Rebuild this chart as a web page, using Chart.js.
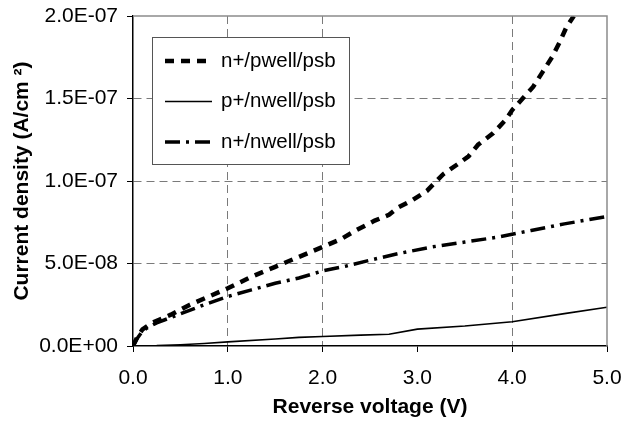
<!DOCTYPE html>
<html>
<head>
<meta charset="utf-8">
<script src="https://cdn.jsdelivr.net/npm/chart.js@4.4.1/dist/chart.umd.min.js"></script>
<style>
html, body { margin: 0; padding: 0; background: #fff; }
canvas { display: block; }
</style>
</head>
<body>
<canvas id="ivChart" width="621" height="422"></canvas>
<script>
// reverse voltage (V) and current density (A/cm2)
var voltsNPwell = [0, 0.05, 0.1, 0.2, 0.4, 0.6, 0.8, 1.0, 1.25, 1.5, 1.75, 2.0, 2.2, 2.35, 2.55, 2.7, 2.8, 2.95, 3.1, 3.27, 3.42, 3.54, 3.64, 3.8, 3.93, 4.0, 4.11, 4.22, 4.32, 4.42, 4.5, 4.57, 4.65];
var currNPwell = [0, 0.6e-8, 1.0e-8, 1.4e-8, 1.9e-8, 2.5e-8, 3.0e-8, 3.5e-8, 4.2e-8, 4.8e-8, 5.4e-8, 6.0e-8, 6.5e-8, 7.0e-8, 7.6e-8, 7.95e-8, 8.4e-8, 8.85e-8, 9.4e-8, 10.4e-8, 11.0e-8, 11.5e-8, 12.2e-8, 12.9e-8, 13.7e-8, 14.3e-8, 15.0e-8, 15.7e-8, 16.6e-8, 17.5e-8, 18.4e-8, 19.3e-8, 20.0e-8];

var voltsPNwell = [0, 0.25, 0.5, 0.75, 1.0, 1.5, 1.75, 2.0, 2.4, 2.7, 3.0, 3.5, 4.0, 4.55, 5.0];
var currPNwell = [0, 0.02e-8, 0.08e-8, 0.15e-8, 0.25e-8, 0.42e-8, 0.52e-8, 0.58e-8, 0.66e-8, 0.71e-8, 1.02e-8, 1.21e-8, 1.47e-8, 1.96e-8, 2.35e-8];

var voltsNNwell = [0, 0.05, 0.1, 0.15, 0.25, 0.5, 0.75, 1.0, 1.25, 1.5, 1.75, 2.0, 2.25, 2.5, 2.8, 3.15, 3.5, 3.85, 4.2, 4.55, 5.0];
var currNNwell = [0, 0.5e-8, 0.9e-8, 1.1e-8, 1.4e-8, 1.95e-8, 2.5e-8, 3.0e-8, 3.4e-8, 3.8e-8, 4.12e-8, 4.55e-8, 4.85e-8, 5.2e-8, 5.6e-8, 6.0e-8, 6.3e-8, 6.6e-8, 7.0e-8, 7.4e-8, 7.85e-8];

var xTicks = [0, 1, 2, 3, 4, 5];
var xGridAt = [1, 2, 4];
var yTicks = [0, 5e-8, 1e-7, 1.5e-7, 2e-7];

function toPoints(xs, ys) {
    return xs.map(function(x, i) { return { x: x, y: ys[i] }; });
}

function sciLabel(v) {
    if (v === 0) return '0.0E+00';
    var parts = v.toExponential(1).split('e');
    var exp = parseInt(parts[1], 10);
    return parts[0] + 'E' + (exp < 0 ? '-' : '+') + String(Math.abs(exp)).padStart(2, '0');
}

var FONT = "'Liberation Sans', Arial, sans-serif";
Chart.defaults.font.family = FONT;
Chart.defaults.font.size = 21;
Chart.defaults.color = '#000';

// top/right frame and the boxed legend inside the plot
var frameAndLegend = {
    id: 'frameAndLegend',
    afterDraw: function(chart) {
        var ctx = chart.ctx, a = chart.chartArea;
        ctx.save();
        ctx.strokeStyle = '#8c8c8c';
        ctx.lineWidth = 1.5;
        ctx.beginPath();
        ctx.moveTo(a.left, a.top);
        ctx.lineTo(a.right, a.top);
        ctx.lineTo(a.right, a.bottom);
        ctx.stroke();

        ctx.fillStyle = '#fff';
        ctx.fillRect(152, 37, 197, 127);
        ctx.strokeStyle = '#555';
        ctx.lineWidth = 1;
        ctx.strokeRect(152.5, 37.5, 197, 127);

        chart.data.datasets.forEach(function(ds, i) {
            var y = 61 + i * 40.5;
            ctx.setLineDash(ds.borderDash || []);
            ctx.strokeStyle = ds.borderColor;
            ctx.lineWidth = ds.borderWidth;
            ctx.beginPath();
            ctx.moveTo(165, y);
            ctx.lineTo(212, y);
            ctx.stroke();
            ctx.setLineDash([]);
            ctx.fillStyle = '#000';
            ctx.font = '20.5px ' + FONT;
            ctx.textBaseline = 'middle';
            ctx.textAlign = 'left';
            ctx.fillText(ds.label, 221, y);
        });
        ctx.restore();
    }
};

var ctx = document.getElementById('ivChart').getContext('2d');
var ivChart = new Chart(ctx, {
    type: 'line',
    data: {
        datasets: [
            {
                label: 'n+/pwell/psb',
                data: toPoints(voltsNPwell, currNPwell),
                borderColor: '#000',
                borderWidth: 4.5,
                borderDash: [9, 7],
                pointRadius: 0
            },
            {
                label: 'p+/nwell/psb',
                data: toPoints(voltsPNwell, currPNwell),
                borderColor: '#000',
                borderWidth: 1.6,
                pointRadius: 0
            },
            {
                label: 'n+/nwell/psb',
                data: toPoints(voltsNNwell, currNNwell),
                borderColor: '#000',
                borderWidth: 3.5,
                borderDash: [15, 6, 3, 6],
                pointRadius: 0
            }
        ]
    },
    options: {
        responsive: false,
        animation: false,
        devicePixelRatio: 1,
        layout: { padding: { top: 16, right: 14, left: 0, bottom: 0 } },
        plugins: {
            legend: { display: false },
            tooltip: { enabled: false }
        },
        scales: {
            x: {
                type: 'linear',
                min: 0,
                max: 5,
                afterBuildTicks: function(scale) {
                    scale.ticks = xTicks.map(function(v) { return { value: v }; });
                },
                afterFit: function(scale) {
                    scale.height = 76;
                    scale.paddingLeft = 0;
                    scale.paddingRight = 0;
                },
                ticks: {
                    padding: 14,
                    maxRotation: 0,
                    callback: function(v) { return Number(v).toFixed(1); }
                },
                grid: {
                    color: function(c) {
                        return c.tick && xGridAt.indexOf(c.tick.value) >= 0 ? '#7a7a7a' : 'rgba(0,0,0,0)';
                    },
                    lineWidth: 1,
                    tickColor: '#000',
                    tickLength: 6,
                    tickWidth: 1
                },
                border: { color: '#000', width: 1.5, dash: [8, 5] },
                title: {
                    display: true,
                    text: 'Reverse voltage (V)',
                    font: { weight: 'bold', size: 21 },
                    padding: { top: 0, bottom: 2 }
                }
            },
            y: {
                min: 0,
                max: 2e-7,
                afterBuildTicks: function(scale) {
                    scale.ticks = yTicks.map(function(v) { return { value: v }; });
                },
                afterFit: function(scale) {
                    scale.width = 133;
                    scale.paddingTop = 0;
                    scale.paddingBottom = 0;
                },
                ticks: {
                    padding: 9,
                    callback: function(v) { return sciLabel(v); }
                },
                grid: {
                    color: function(c) {
                        var v = c.tick ? c.tick.value : 0;
                        return v > 1e-9 && v < 1.99e-7 ? '#7a7a7a' : 'rgba(0,0,0,0)';
                    },
                    lineWidth: 1,
                    tickColor: '#000',
                    tickLength: 6,
                    tickWidth: 1
                },
                border: { color: '#000', width: 1.5, dash: [8, 5] },
                title: {
                    display: true,
                    text: 'Current density (A/cm ²)',
                    font: { weight: 'bold', size: 21 },
                    padding: { top: 10, bottom: 0 }
                }
            }
        }
    },
    plugins: [frameAndLegend]
});
</script>
</body>
</html>
